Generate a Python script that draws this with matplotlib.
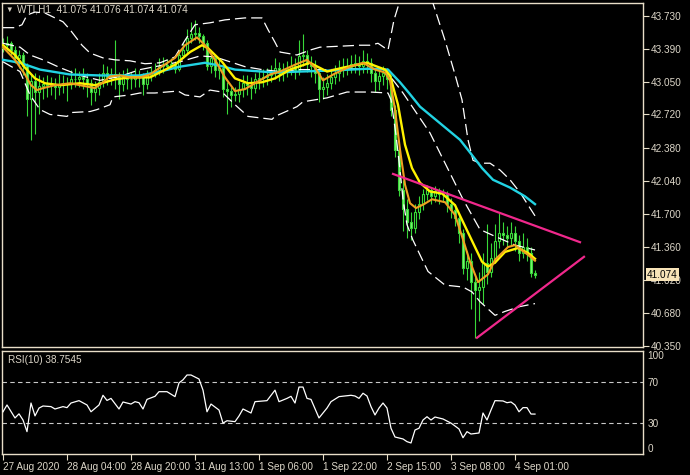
import matplotlib
matplotlib.use("Agg")
import matplotlib.pyplot as plt
import numpy as np

# ---------------- data ----------------
close = [43.43, 43.45, 43.38, 43.30, 43.33, 43.22, 42.88, 43.06, 42.95, 43.01,
         43.03, 43.02, 43.03, 43.00, 43.02, 43.04, 43.03, 43.08, 43.08, 43.10,
         43.08, 43.04, 42.95, 42.99, 43.05, 43.15, 43.10, 43.13, 43.10, 43.03,
         43.10, 43.08, 43.08, 43.11, 43.10, 43.03, 43.12, 43.15, 43.18, 43.22,
         43.22, 43.23, 43.24, 43.19, 43.33, 43.38, 43.50, 43.55, 43.56, 43.52,
         43.45, 43.22, 43.30, 43.18, 43.20, 42.98, 42.96, 42.92, 42.93, 42.98,
         43.04, 43.02, 42.99, 43.08, 43.09, 43.10, 43.12, 43.14, 43.20, 43.14,
         43.16, 43.19, 43.22, 43.18, 43.32, 43.33, 43.24, 43.22, 43.15, 42.98,
         43.00, 43.04, 43.10, 43.14, 43.18, 43.20, 43.21, 43.24, 43.24, 43.22,
         43.27, 43.25, 43.15, 43.06, 43.11, 43.14, 43.08, 42.77, 42.36, 41.95,
         41.75, 41.62, 41.56, 41.72, 41.80, 41.90, 41.95, 41.88, 41.93, 41.90,
         41.90, 41.80, 41.74, 41.66, 41.50, 41.15, 41.22, 41.00, 40.92, 40.95,
         41.20, 41.10, 41.25, 41.42, 41.50, 41.48, 41.45, 41.50, 41.42, 41.30,
         41.36, 41.30, 41.09, 41.074]
high = [43.50, 43.52, 43.47, 43.42, 43.38, 43.36, 43.25, 43.12, 43.15, 43.12,
        43.10, 43.12, 43.10, 43.09, 43.13, 43.12, 43.10, 43.18, 43.20, 43.17,
        43.20, 43.14, 43.08, 43.06, 43.14, 43.24, 43.22, 43.20, 43.48, 43.16,
        43.18, 43.20, 43.16, 43.20, 43.18, 43.14, 43.18, 43.22, 43.25, 43.30,
        43.31, 43.29, 43.30, 43.27, 43.38, 43.45, 43.60, 43.67, 43.69, 43.62,
        43.55, 43.48, 43.36, 43.33, 43.28, 43.23, 43.05, 43.00, 43.00, 43.06,
        43.12, 43.12, 43.10, 43.15, 43.18, 43.19, 43.20, 43.23, 43.30, 43.26,
        43.25, 43.27, 43.32, 43.30, 43.48, 43.54, 43.38, 43.32, 43.28, 43.20,
        43.10, 43.13, 43.18, 43.23, 43.28, 43.30, 43.30, 43.33, 43.34, 43.32,
        43.38, 43.35, 43.30, 43.20, 43.18, 43.22, 43.20, 43.12, 42.82, 42.40,
        42.05, 41.85, 41.72, 41.80, 41.88, 41.96, 42.00, 41.98, 41.99, 41.97,
        41.96, 41.94, 41.86, 41.80, 41.70, 41.55, 41.32, 41.30, 41.05, 41.10,
        41.30, 41.60, 41.40, 41.60, 41.71, 41.62, 41.58, 41.62, 41.58, 41.48,
        41.50, 41.45, 41.36, 41.12]
low = [43.36, 43.38, 43.33, 43.25, 43.20, 43.12, 42.70, 42.46, 42.52, 42.72,
       42.88, 42.90, 42.92, 42.88, 42.92, 42.94, 42.86, 42.98, 43.00, 43.00,
       42.98, 42.90, 42.82, 42.86, 42.92, 43.00, 43.02, 43.02, 42.98, 42.88,
       42.96, 42.98, 42.98, 43.00, 43.00, 42.92, 42.98, 43.06, 43.10, 43.12,
       43.14, 43.18, 43.19, 43.14, 43.17, 43.30, 43.35, 43.45, 43.48, 43.45,
       43.38, 43.18, 43.15, 43.10, 43.08, 42.90, 42.72, 42.80, 42.86, 42.85,
       42.90, 42.92, 42.88, 42.94, 42.98, 43.00, 43.02, 43.05, 43.08, 43.06,
       43.06, 43.10, 43.12, 43.08, 43.12, 43.22, 43.16, 43.10, 43.04, 42.85,
       42.88, 42.92, 42.98, 43.03, 43.06, 43.10, 43.12, 43.14, 43.15, 43.12,
       43.15, 43.15, 43.05, 42.95, 42.97, 43.02, 42.98, 42.70, 42.28, 41.88,
       41.52, 41.45, 41.43, 41.50, 41.65, 41.74, 41.84, 41.80, 41.82, 41.80,
       41.82, 41.72, 41.66, 41.58, 41.40, 41.08, 41.02, 40.72, 40.43, 40.60,
       40.78, 40.98, 41.05, 41.20, 41.35, 41.38, 41.36, 41.38, 41.32, 41.22,
       41.25, 41.22, 41.05, 41.04]
first_open = 43.40

# fast MA (orange), read at sampled bars
ma_fast_x = [0, 3, 5.5, 7, 8.5, 10, 13, 16.75, 19.25, 23, 25, 26.75, 29.25, 31.75, 34.25,
             36.75, 39.25, 43, 45.5, 48.5, 50.5, 53, 55.5, 58, 60.5, 63, 66.75, 69.25, 73,
             76, 78, 80, 83, 86.75, 90, 93, 95.5, 96.75, 98, 99.25, 100.5, 101.75, 103.25,
             105.25, 107.25, 110.5, 113, 114.75, 116.75, 118.75, 121.25, 123, 126.25, 128,
             131.25, 133]
ma_fast_y = [43.41, 43.28, 43.13, 43.02, 42.97, 42.99, 43.02, 43.04, 43.02, 42.99, 43.05,
             43.11, 43.12, 43.10, 43.10, 43.13, 43.20, 43.30, 43.43, 43.51, 43.43, 43.28,
             43.10, 42.96, 42.98, 43.04, 43.13, 43.16, 43.23, 43.28, 43.20, 43.07, 43.14,
             43.21, 43.25, 43.18, 43.15, 43.07, 42.77, 42.36, 42.00, 41.81, 41.76, 41.80,
             41.85, 41.82, 41.69, 41.47, 41.21, 41.00, 41.08, 41.23, 41.36, 41.38, 41.28,
             41.22]
# slow MA (yellow)
ma_slow_x = [0, 3, 5.5, 8, 10.5, 14.25, 19.25, 23, 25.5, 28, 31.75, 36.75, 43, 46.75,
             49.75, 51.25, 54.75, 58, 61.25, 64.75, 68, 71.75, 76.75, 81, 85, 91, 95.5,
             96.75, 98.75, 100.5, 102.25, 104.25, 106.75, 109.75, 113, 116.25, 119.75,
             121.25, 123, 125.5, 128.75, 131.25, 133]
ma_slow_y = [43.43, 43.33, 43.20, 43.09, 43.04, 43.02, 43.04, 43.02, 43.05, 43.08, 43.10,
             43.10, 43.23, 43.36, 43.43, 43.40, 43.26, 43.09, 43.04, 43.05, 43.09, 43.18,
             43.25, 43.16, 43.20, 43.25, 43.18, 43.12, 42.82, 42.41, 42.17, 42.02, 41.93,
             41.91, 41.79, 41.51, 41.21, 41.16, 41.20, 41.31, 41.35, 41.30, 41.24]
# long MA (cyan)
ma_long_x = [0, 4.25, 9.25, 16.75, 24.25, 34.25, 39.25, 44.25, 50.5, 54.25, 58, 68, 74.25,
             81.75, 91.75, 96.25, 99.25, 101.5, 104.25, 109.25, 114.25, 116.75, 119.75,
             122.5, 126.75, 130.5, 133]
ma_long_y = [43.28, 43.25, 43.18, 43.13, 43.12, 43.12, 43.16, 43.21, 43.25, 43.22, 43.18,
             43.15, 43.16, 43.17, 43.19, 43.18, 43.05, 42.94, 42.80, 42.63, 42.46, 42.33,
             42.17, 42.05, 41.97, 41.88, 41.80]

# Bollinger bands
bb_up_x = [0, 3, 4.75, 6, 8, 10.5, 13, 15, 16.75, 19.75, 21.75, 25, 28, 31.75, 35.5, 39.25,
           43, 45.5, 48, 51.75, 55.5, 60.5, 64.75, 66.25, 68, 69.25, 73.5, 76.75, 79.25,
           89.25, 91.75, 93.75, 96.25, 97.75, 99.25, 100.5, 104, 107.5, 110.5, 113, 114.75,
           116.25, 117.5, 119.25, 121.75, 124.25, 126.75, 129.25, 133]
bb_up_y = [43.61, 43.61, 43.64, 43.74, 43.77, 43.76, 43.71, 43.67, 43.59, 43.43, 43.35,
           43.30, 43.28, 43.27, 43.24, 43.25, 43.31, 43.48, 43.64, 43.66, 43.69, 43.71,
           43.71, 43.59, 43.46, 43.36, 43.33, 43.38, 43.41, 43.43, 43.43, 43.45, 43.38,
           43.69, 43.89, 44.00, 44.15, 43.86, 43.48, 43.13, 42.87, 42.46, 42.25, 42.22,
           42.22, 42.15, 42.05, 41.92, 41.68]
bb_mid_x = [0, 4.25, 6.75, 10, 14.25, 19.25, 24.25, 29.25, 34.25, 39.25, 44.25, 49.25, 53,
            56.75, 60.5, 64.75, 69.25, 74.25, 81.75, 89.25, 95.5, 100, 106.75, 111, 115,
            119.25, 123, 128, 133]
bb_mid_y = [43.45, 43.41, 43.33, 43.28, 43.20, 43.12, 43.07, 43.11, 43.18, 43.22, 43.26,
            43.32, 43.31, 43.26, 43.21, 43.18, 43.16, 43.18, 43.18, 43.19, 43.18, 42.94,
            42.53, 42.18, 41.85, 41.54, 41.47, 41.38, 41.33]
bb_lo_x = [0, 4.25, 6.75, 9.25, 11.75, 16, 17.25, 21.75, 23.5, 26.75, 27.5, 31.75, 34.25,
           38, 43.75, 45.5, 49.25, 51.75, 54.75, 58, 61.25, 67.25, 68, 73.5, 75, 81, 86,
           91.75, 96.25, 97, 98.25, 99.25, 100, 101, 102.5, 104.25, 106.25, 110.5, 115,
           117.25, 119.25, 123, 125.5, 129.25, 133]
bb_lo_y = [43.26, 43.16, 42.92, 42.77, 42.72, 42.70, 42.74, 42.75, 42.77, 42.82, 42.90,
           42.92, 42.94, 42.94, 42.96, 42.92, 42.90, 42.97, 42.95, 42.82, 42.70, 42.67,
           42.70, 42.80, 42.85, 42.89, 42.95, 42.95, 42.94, 42.87, 42.51, 42.15, 41.85,
           41.59, 41.43, 41.28, 41.11, 40.97, 40.95, 40.90, 40.80, 40.66, 40.70, 40.75,
           40.78]

# trend lines (bar index, price)
trend_upper_x = [97.5, 144.25]
trend_upper_y = [42.11, 41.41]
trend_lower_x = [118.5, 145.25]
trend_lower_y = [40.43, 41.26]

# RSI(10)
rsi_x = [0, 1, 3, 4, 5, 6, 7, 8, 9, 10, 12, 13, 15, 16, 17, 19, 21, 22, 24, 25, 26, 27, 29,
         30, 32, 33, 34, 35, 36, 38, 39, 41, 43, 44, 45, 46, 47, 49, 50, 51, 52, 54, 55, 56,
         58, 59, 60, 62, 63, 66, 68, 69, 71, 72, 73, 74, 75, 76, 77, 79, 81, 82, 84, 87, 88,
         89, 90, 91, 92, 93, 94, 95, 96, 97, 98, 100, 101, 102, 103, 104, 105, 106, 107,
         108, 110, 112, 113, 114, 115, 116, 117, 119, 120, 121, 122, 123, 125, 126, 127,
         128, 129, 130, 131, 132, 133]
rsi_y = [41, 47.6, 35, 39, 33, 21.7, 49.5, 37, 44.6, 46.6, 46, 43.7, 46, 45, 49.5, 51.8,
         47.6, 41, 47.6, 57, 52, 54, 43.7, 50.5, 48.5, 50.8, 49.8, 43.7, 53, 56, 60.5, 60.5,
         55.7, 69, 72, 76.7, 76.7, 72.8, 62, 41, 48.5, 42.7, 30, 32.3, 31.4, 36.9, 43.7,
         39.8, 50.8, 51.8, 62, 50.8, 54, 56, 49.5, 65, 65, 54, 53, 35, 44.6, 50.8, 55.7, 57,
         56.3, 54, 59, 56.3, 46, 37.9, 44.6, 49.5, 44.6, 25, 16.5, 14.6, 12, 10.7, 23.3, 25,
         33, 36.2, 33, 35.9, 34, 30, 27.2, 24.3, 15.8, 21.7, 19.4, 20.4, 39.8, 33, 42.7,
         51.8, 51.5, 49.8, 50.5, 47.6, 41, 45, 45, 38.8, 38.75]
rsi_levels = [70, 30]

price_ticks = [43.730, 43.390, 43.050, 42.720, 42.380, 42.040, 41.700, 41.360, 41.020,
               40.680, 40.350]
time_tick_bars = [0, 16, 32, 48, 64, 80, 96, 112, 128]
time_tick_labels = ["27 Aug 2020", "28 Aug 04:00", "28 Aug 20:00", "31 Aug 13:00",
                    "1 Sep 06:00", "1 Sep 22:00", "2 Sep 15:00", "3 Sep 08:00", "4 Sep 01:00"]
title_text = "WTI,H1  41.075 41.076 41.074 41.074"
rsi_title = "RSI(10) 38.7545"
last_price = 41.074

# ---------------- style ----------------
BG = "black"
FRAME = "#E8DEC8"
TXT = "#DCD6C8"
GREEN = "#38D838"
GREEN_FILL = "#86EE7A"
FS = 7.2

W, H = 690, 475
plt.rcParams['font.family'] = ['Liberation Sans', 'DejaVu Sans']
fig = plt.figure(figsize=(W / 100, H / 100), dpi=100, facecolor=BG)

def frac(x0, y0, x1, y1):
    return [x0 / W, 1 - y1 / H, (x1 - x0) / W, (y1 - y0) / H]

ax = fig.add_axes(frac(2, 3, 643, 347))
axr = fig.add_axes(frac(2, 351, 643, 454))

for a in (ax, axr):
    a.set_facecolor(BG)
    for s in a.spines.values():
        s.set_color(FRAME)
        s.set_linewidth(1.0)
    a.set_xlim(-0.25, 160)

# candles
n = len(close)
xs = np.arange(n)
opens = [first_open] + close[:-1]
o = np.array(opens); c = np.array(close); h = np.array(high); l = np.array(low)
ax.vlines(xs, l, h, color=GREEN, linewidth=0.8, zorder=2)
bot = np.minimum(o, c)
hgt = np.maximum(np.abs(c - o), 0.004)
bull = c >= o
ax.bar(xs[bull], hgt[bull], bottom=bot[bull], width=0.65, facecolor="black",
       edgecolor=GREEN, linewidth=0.8, zorder=3)
ax.bar(xs[~bull], hgt[~bull], bottom=bot[~bull], width=0.65, facecolor=GREEN_FILL,
       edgecolor=GREEN, linewidth=0.8, zorder=3)

# Bollinger bands
for bx, by in ((bb_up_x, bb_up_y), (bb_mid_x, bb_mid_y), (bb_lo_x, bb_lo_y)):
    ax.plot(bx, by, color="white", linewidth=0.9, dashes=(9, 4), zorder=4)

# moving averages
ax.plot(ma_long_x, ma_long_y, color="#22D3E3", linewidth=1.7, zorder=5)
ax.plot(ma_slow_x, ma_slow_y, color="#FFF200", linewidth=1.7, zorder=6)
ax.plot(ma_fast_x, ma_fast_y, color="#F0A020", linewidth=1.5, zorder=7)

# trend lines
ax.plot(trend_upper_x, trend_upper_y, color="#F0288C", linewidth=1.6, zorder=8)
ax.plot(trend_lower_x, trend_lower_y, color="#F0288C", linewidth=1.6, zorder=8)

ax.set_ylim(40.335, 43.863)
ax.yaxis.tick_right()
ax.set_yticks(price_ticks)
ax.set_yticklabels([f"{v:.3f}" for v in price_ticks])
ax.tick_params(axis='y', colors=FRAME, labelcolor=TXT, labelsize=FS, length=4, width=0.8, pad=1.5)
ax.set_xticks([])

ax.text(0.006, 1 - 7 / 344, "\u25BC", transform=ax.transAxes, color=TXT, fontsize=5.5,
        va="center", ha="left")
ax.text(0.024, 1 - 7 / 344, title_text, transform=ax.transAxes, color=TXT, fontsize=FS,
        va="center", ha="left")

# last price label (covers the nearby tick label, as in the terminal)
ax.annotate(f"{last_price:.3f}", xy=(1, last_price), xycoords=("axes fraction", "data"),
            xytext=(3, 0), textcoords="offset points", fontsize=FS, color="black",
            va="center", ha="left", annotation_clip=False, zorder=20,
            bbox=dict(boxstyle="square,pad=0.15", facecolor="#F8E4B8", edgecolor="none"))

# RSI panel
axr.plot(rsi_x, rsi_y, color="white", linewidth=0.9, zorder=5)
for lv in rsi_levels:
    axr.axhline(lv, color="#C8C8C8", linewidth=0.8, dashes=(4, 3), zorder=2)
axr.set_ylim(0, 100)
axr.yaxis.tick_right()
axr.set_yticks([0, 30, 70, 100])
axr.set_yticklabels(["0", "30", "70", "100"])
axr.tick_params(axis='y', colors=FRAME, labelcolor=TXT, labelsize=FS, length=0, pad=3)
for lab in axr.get_yticklabels():
    if lab.get_text() == "100":
        lab.set_va("top")
    elif lab.get_text() == "0":
        lab.set_va("bottom")
axr.set_xticks(time_tick_bars)
axr.set_xticklabels(time_tick_labels)
axr.tick_params(axis='x', colors=FRAME, labelcolor=TXT, labelsize=FS, length=4, width=0.8, pad=2)
for lab in axr.get_xticklabels():
    lab.set_ha("left")
axr.text(0.01, 1 - 9 / 103, rsi_title, transform=axr.transAxes, color=TXT, fontsize=FS,
         va="center", ha="left")

fig.savefig("out.png", dpi=100, facecolor=BG)
